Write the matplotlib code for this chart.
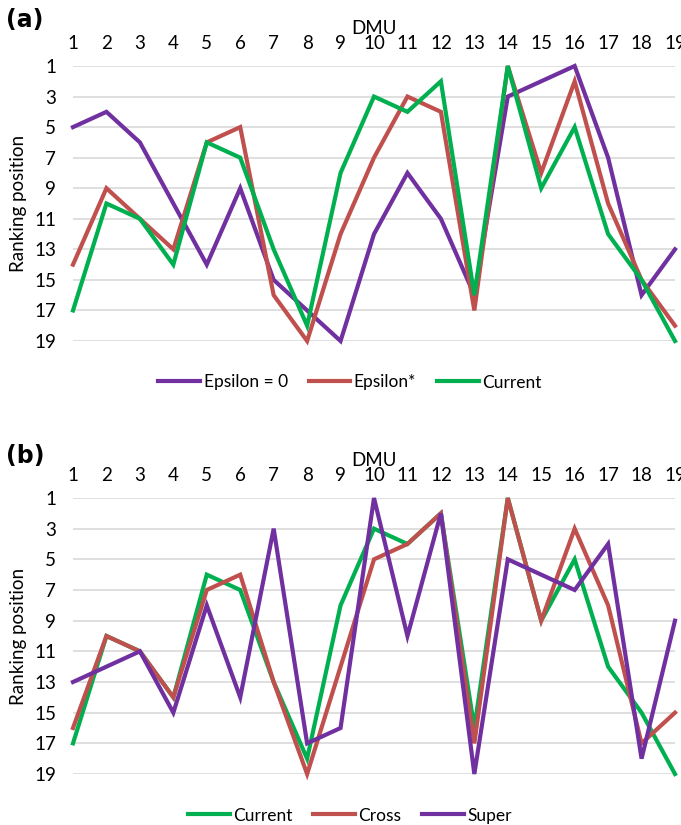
import numpy as np
import matplotlib.pyplot as plt

dmu = list(range(1, 20))

# panel (a)
eps0 = [5, 4, 6, 10, 14, 9, 15, 17, 19, 12, 8, 11, 16, 3, 2, 1, 7, 16, 13]
eps_star = [14, 9, 11, 13, 6, 5, 16, 19, 12, 7, 3, 4, 17, 1, 8, 2, 10, 15, 18]
current = [17, 10, 11, 14, 6, 7, 13, 18, 8, 3, 4, 2, 16, 1, 9, 5, 12, 15, 19]

# panel (b)
cross = [16, 10, 11, 14, 7, 6, 13, 19, 12, 5, 4, 2, 17, 1, 9, 3, 8, 17, 15]
super_ = [13, 12, 11, 15, 8, 14, 3, 17, 16, 1, 10, 2, 19, 5, 6, 7, 4, 18, 9]

PURPLE = '#7030A0'
RED = '#C0504D'
GREEN = '#00B050'

plt.rcParams['font.family'] = ['Lato', 'DejaVu Sans']

W, H = 681, 825
fig = plt.figure(figsize=(W / 100, H / 100), dpi=100)
FS = 13.5


def make_axes(top, bottom):
	left, right = 73, 675
	return fig.add_axes([left / W, 1 - bottom / H, (right - left) / W, (bottom - top) / H])


def style_axes(ax):
	ax.set_xlim(1, 19)
	ax.set_ylim(19, 1)
	ax.set_yticks(range(1, 20, 2))
	ax.set_xticks(dmu)
	ax.xaxis.tick_top()
	ax.xaxis.set_label_position('top')
	ax.set_xlabel('DMU', fontsize=FS, labelpad=1)
	ax.set_ylabel('Ranking position', fontsize=FS, labelpad=5)
	ax.tick_params(length=0, labelsize=FS)
	ax.tick_params(axis='x', pad=10)
	ax.tick_params(axis='y', pad=12)
	for s in ax.spines.values():
		s.set_visible(False)
	ax.grid(axis='y', color='#D9D9D9', lw=1.2)
	ax.set_axisbelow(True)


def draw(ax, series, labels, colors):
	for y, lab, c in zip(series, labels, colors):
		ax.plot(dmu, y, color=c, lw=3.0, label=lab, clip_on=False, solid_joinstyle='miter')


def add_legend(ax):
	ax.legend(loc='upper center', bbox_to_anchor=(0.46, -0.065), ncol=3, frameon=False,
	          fontsize=12.5, handlelength=2.4, handletextpad=0.2, columnspacing=1.2)


ax1 = make_axes(66, 341)
style_axes(ax1)
draw(ax1, [eps0, eps_star, current], ['Epsilon = 0', 'Epsilon*', 'Current'], [PURPLE, RED, GREEN])
add_legend(ax1)
fig.text(6 / W, 1 - 20 / H, '(a)', fontsize=17, fontweight='bold', family='DejaVu Sans', va='center')

ax2 = make_axes(498, 774)
style_axes(ax2)
draw(ax2, [current, cross, super_], ['Current', 'Cross', 'Super'], [GREEN, RED, PURPLE])
add_legend(ax2)
fig.text(6 / W, 1 - 456 / H, '(b)', fontsize=17, fontweight='bold', family='DejaVu Sans', va='center')

fig.savefig('out.png', dpi=100)
